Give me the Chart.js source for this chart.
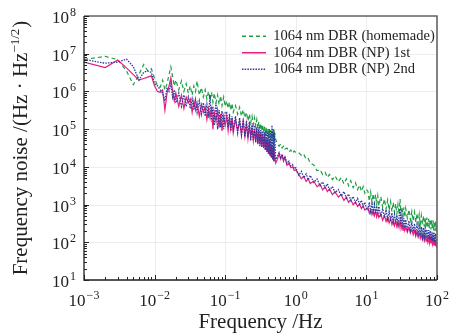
<!DOCTYPE html>
<html>
<head>
<meta charset="utf-8">
<title>Frequency noise</title>
<script src="https://cdn.jsdelivr.net/npm/chart.js@4.4.0/dist/chart.umd.min.js"></script>
<style>
  html, body { margin: 0; padding: 0; background: #fff; }
</style>
</head>
<body>
<canvas id="myChart" width="449" height="333"></canvas>
<script>
// frequency bins (Hz) shared by the three spectra
const freq = [
  0.001, 0.002, 0.003, 0.004, 0.005, 0.006, 0.007, 0.008, 0.009, 0.010,
  0.011, 0.012, 0.013, 0.014, 0.015, 0.016, 0.017, 0.018, 0.019, 0.020,
  0.022, 0.024, 0.026, 0.028, 0.030, 0.032, 0.034, 0.036, 0.038, 0.040,
  0.043, 0.046, 0.049, 0.052, 0.055, 0.058, 0.061, 0.064, 0.067, 0.070,
  0.074, 0.078, 0.082, 0.086, 0.090, 0.095, 0.100,
  0.105, 0.11, 0.115, 0.12, 0.125, 0.13, 0.14, 0.15, 0.16, 0.17,
  0.18, 0.19, 0.20, 0.21, 0.22, 0.23, 0.24, 0.25, 0.26, 0.27,
  0.28, 0.29, 0.30, 0.31, 0.32, 0.33, 0.34, 0.35, 0.36, 0.37,
  0.38, 0.39, 0.40, 0.41, 0.42, 0.43, 0.44, 0.45, 0.46, 0.47,
  0.48, 0.49, 0.50,
  0.52, 0.55, 0.58, 0.61, 0.64, 0.67, 0.70, 0.75, 0.80, 0.85, 0.90, 0.95, 1.0,
  1.1, 1.2, 1.3, 1.4, 1.5, 1.6, 1.8, 2.0, 2.2, 2.4,
  2.6, 2.8, 3.0, 3.3, 3.6, 4.0, 4.4, 4.8, 5.2, 5.6,
  6.0, 6.5, 7.0, 7.5, 8.0, 8.5, 9.0, 9.5, 10,
  10.5, 11, 11.5, 12, 12.5, 13, 13.5, 14, 14.5, 15,
  16, 17, 18, 19, 20, 21, 22, 23, 24, 25,
  26, 27, 28, 29, 30, 31, 32, 33, 34, 35,
  36, 38, 40, 42, 44, 46, 48, 50, 52, 54,
  56, 58, 60, 62, 64, 66, 68, 70, 72, 74,
  76, 78, 80, 82, 84, 86, 88, 90, 92, 94,
  96, 98, 100
];

// 1064 nm DBR (homemade), Hz/Hz^1/2
const homemade = [
  7.0e6, 8.5e6, 7.0e6, 3.5e6, 1.5e6, 2.8e6, 5.2e6, 3.5e6, 4.0e6, 2.2e6,
  1.4e6, 1.3e6, 2.0e6, 1.1e6, 1.6e6, 2.8e6, 4.5e6, 2.5e6, 1.4e6, 2.0e6,
  1.1e6, 1.9e6, 1.0e6, 1.6e6, 9.0e5, 1.4e6, 8.0e5, 1.4e6, 1.0e6, 1.9e6,
  8.0e5, 1.26e6, 7.1e5, 1.1e6, 6.3e5, 1.0e6, 6.0e5, 9.5e5, 5.2e5, 9.0e5,
  5.0e5, 8.0e5, 4.5e5, 7.6e5, 4.2e5, 7.1e5, 4.0e5,
  5.6e5, 3.55e5, 5.2e5, 3.15e5, 4.8e5, 2.8e5, 4.2e5, 2.5e5, 3.8e5, 2.2e5,
  3.3e5, 2.0e5, 2.8e5, 1.66e5, 2.5e5, 1.5e5, 2.2e5, 1.32e5, 2.0e5, 1.2e5,
  1.78e5, 1.05e5, 1.58e5, 9.5e4, 1.41e5, 8.9e4, 1.32e5, 7.9e4, 1.2e5, 7.6e4,
  1.12e5, 7.1e4, 1.05e5, 6.6e4, 1.0e5, 6.0e4, 9.5e4, 5.6e4, 8.9e4, 5.2e4,
  8.3e4, 5.0e4, 7.9e4,
  5.2e4, 4.2e4, 3.55e4, 4.0e4, 3.15e4, 3.55e4, 2.95e4, 3.15e4, 2.5e4, 2.8e4, 2.3e4, 2.65e4, 2.4e4,
  2.4e4, 2.0e4, 2.15e4, 1.58e4, 1.66e4, 1.26e4, 1.12e4, 7.9e3, 8.5e3, 6.3e3,
  7.2e3, 5.2e3, 6.3e3, 4.6e3, 5.8e3, 4.0e3, 5.2e3, 3.55e3, 4.8e3, 3.15e3,
  4.3e3, 2.8e3, 3.8e3, 2.5e3, 3.3e3, 2.25e3, 3.0e3, 2.0e3, 2.5e3,
  2.25e3, 1.23e3, 2.15e3, 1.15e3, 1.95e3, 1.05e3, 1.86e3, 1.02e3, 1.7e3, 9.3e2,
  1.62e3, 8.5e2, 1.41e3, 7.6e2, 1.32e3, 7.2e2, 1.2e3, 6.5e2, 1.15e3, 6.2e2,
  1.05e3, 5.6e2, 1.0e3, 5.5e2, 1.4e3, 5.0e2, 8.7e2, 4.9e2, 8.5e2, 4.6e2,
  7.9e2, 4.4e2, 7.4e2, 3.9e2, 6.6e2, 3.7e2, 6.3e2, 3.4e2, 5.8e2, 3.2e2,
  5.5e2, 2.95e2, 5.1e2, 2.9e2, 5.0e2, 2.65e2, 4.6e2, 2.6e2, 4.5e2, 2.4e2,
  4.2e2, 2.35e2, 4.1e2, 2.2e2, 3.8e2, 2.2e2, 3.8e2, 2.05e2, 3.55e2, 2.0e2,
  3.55e2, 1.9e2, 2.5e2
];

// 1064 nm DBR (NP) 1st
const npFirst = [
  6.0e6, 4.3e6, 6.8e6, 4.2e6, 2.8e6, 2.0e6, 2.2e6, 2.4e6, 2.6e6, 1.4e6,
  1.0e6, 9.5e5, 1.1e6, 3.2e5, 9.0e5, 1.4e6, 2.3e6, 1.0e6, 5.6e5, 9.0e5,
  4.0e5, 8.0e5, 3.5e5, 7.0e5, 5.0e5, 6.3e5, 2.8e5, 5.6e5, 3.2e5, 5.0e5,
  2.2e5, 4.5e5, 2.8e5, 4.0e5, 1.8e5, 3.5e5, 2.0e5, 4.0e5, 1.0e5, 2.8e5,
  1.6e5, 3.2e5, 1.1e5, 2.5e5, 9.0e4, 2.2e5, 1.26e5,
  2.2e5, 9.0e4, 2.0e5, 1.0e5, 2.0e5, 8.0e4, 1.8e5, 9.0e4, 1.6e5, 7.0e4,
  1.6e5, 6.3e4, 1.4e5, 5.6e4, 1.26e5, 6.3e4, 1.1e5, 5.0e4, 1.0e5, 4.5e4,
  1.0e5, 4.0e4, 9.0e4, 4.0e4, 8.0e4, 3.5e4, 7.0e4, 3.2e4, 6.3e4, 2.8e4,
  5.6e4, 2.5e4, 5.0e4, 2.2e4, 5.0e4, 2.0e4, 4.0e4, 1.8e4, 3.5e4, 1.6e4,
  3.2e4, 1.4e4, 2.0e4,
  1.26e4, 1.6e4, 2.2e4, 1.6e4, 2.0e4, 1.4e4, 1.8e4, 1.1e4, 1.26e4, 9.5e3, 1.0e4, 8.0e3, 8.3e3,
  6.3e3, 4.8e3, 5.6e3, 4.1e3, 4.8e3, 3.6e3, 4.2e3, 2.95e3, 3.5e3, 2.45e3,
  2.95e3, 2.2e3, 2.6e3, 1.82e3, 2.2e3, 1.58e3, 1.82e3, 1.29e3, 1.55e3, 1.15e3,
  1.35e3, 9.8e2, 1.17e3, 8.9e2, 1.05e3, 7.8e2, 9.3e2, 7.1e2, 7.6e2,
  8.3e2, 5.9e2, 7.4e2, 5.4e2, 7.1e2, 5.1e2, 6.8e2, 4.7e2, 6.0e2, 4.5e2,
  5.6e2, 3.8e2, 5.1e2, 3.55e2, 4.7e2, 3.25e2, 4.2e2, 2.95e2, 3.9e2, 2.75e2,
  3.6e2, 2.6e2, 3.4e2, 2.5e2, 3.9e2, 2.3e2, 3.0e2, 2.1e2, 2.8e2, 2.05e2,
  2.6e2, 1.85e2, 2.45e2, 1.74e2, 2.2e2, 1.58e2, 2.05e2, 1.45e2, 1.9e2, 1.38e2,
  1.78e2, 1.29e2, 1.62e2, 1.2e2, 1.58e2, 1.12e2, 1.48e2, 1.07e2, 1.41e2, 1.02e2,
  1.32e2, 9.5e1, 1.29e2, 9.3e1, 1.23e2, 8.9e1, 1.17e2, 8.3e1, 1.12e2, 8.3e1,
  1.07e2, 7.8e1, 8.5e1
];

// 1064 nm DBR (NP) 2nd
const npSecond = [
  7.0e6, 5.6e6, 6.0e6, 7.2e6, 4.5e6, 2.0e6, 3.2e6, 3.5e6, 3.2e6, 1.6e6,
  1.4e6, 1.1e6, 9.0e5, 5.6e5, 1.26e6, 1.0e6, 1.6e6, 7.1e5, 1.1e6, 5.0e5,
  9.0e5, 4.0e5, 8.0e5, 4.0e5, 7.1e5, 3.5e5, 6.3e5, 3.2e5, 6.0e5, 2.8e5,
  5.6e5, 2.5e5, 5.0e5, 2.2e5, 4.5e5, 2.0e5, 8.0e5, 1.6e5, 4.0e5, 1.26e5,
  5.0e5, 1.0e5, 3.2e5, 1.12e5, 3.0e5, 1.0e5, 2.8e5,
  2.8e5, 1.12e5, 2.5e5, 8.9e4, 2.2e5, 1.0e5, 2.2e5, 7.9e4, 2.0e5, 7.1e4,
  1.9e5, 6.3e4, 1.66e5, 6.0e4, 1.58e5, 5.0e4, 1.41e5, 5.2e4, 1.26e5, 4.5e4,
  1.12e5, 4.2e4, 1.12e5, 3.55e4, 9.5e4, 3.3e4, 8.9e4, 3.15e4, 8.3e4, 2.8e4,
  8.9e4, 2.5e4, 7.9e4, 2.2e4, 1.0e5, 2.0e4, 8.9e4, 1.78e4, 1.26e5, 1.58e4,
  1.0e5, 1.41e4, 7.9e4,
  1.58e4, 1.9e4, 2.4e4, 1.78e4, 2.15e4, 1.58e4, 1.9e4, 1.26e4, 1.41e4, 1.07e4, 1.15e4, 8.9e3, 9.5e3,
  6.0e3, 7.6e3, 5.1e3, 6.5e3, 4.5e3, 5.9e3, 3.9e3, 4.8e3, 3.15e3, 4.0e3,
  2.75e3, 3.55e3, 2.45e3, 3.0e3, 2.05e3, 2.5e3, 1.7e3, 2.2e3, 1.5e3, 1.9e3,
  1.29e3, 1.62e3, 1.12e3, 1.45e3, 1.02e3, 1.29e3, 8.9e2, 1.15e3, 7.9e2,
  7.2e2, 1.15e3, 6.5e2, 1.02e3, 6.2e2, 1.0e3, 5.6e2, 9.1e2, 5.5e2, 8.9e2,
  4.8e2, 7.8e2, 4.5e2, 7.2e2, 4.0e2, 6.5e2, 3.7e2, 6.0e2, 3.4e2, 5.4e2,
  3.15e2, 5.2e2, 3.0e2, 4.7e2, 7.8e2, 2.7e2, 4.5e2, 2.5e2, 4.3e2, 2.45e2,
  4.0e2, 2.2e2, 3.7e2, 2.1e2, 3.4e2, 1.9e2, 3.1e2, 1.78e2, 2.95e2, 1.7e2,
  2.75e2, 1.55e2, 2.55e2, 1.45e2, 2.45e2, 1.41e2, 2.35e2, 1.32e2, 2.2e2, 1.26e2,
  2.1e2, 1.23e2, 2.05e2, 1.15e2, 1.9e2, 1.1e2, 1.86e2, 1.07e2, 1.78e2, 1.0e2,
  1.7e2, 9.8e1, 1.26e2
];

const seriesNames = ['1064 nm DBR (homemade)', '1064 nm DBR (NP) 1st', '1064 nm DBR (NP) 2nd'];
const xDecades = [-3, -2, -1, 0, 1, 2];
const yDecades = [1, 2, 3, 4, 5, 6, 7, 8];

const SERIF = '"Liberation Serif", "Times New Roman", serif';

function toPoints(values) {
  return freq.map((f, i) => ({ x: f, y: values[i] }));
}

// "10" with a raised exponent
function drawPower(ctx, x, y, exp, align) {
  const expText = exp < 0 ? '\u2212' + (-exp) : String(exp);
  ctx.font = '17px ' + SERIF;
  const w1 = ctx.measureText('10').width;
  ctx.font = '12px ' + SERIF;
  const w2 = ctx.measureText(expText).width;
  const total = w1 + 1 + w2;
  const x0 = align === 'right' ? x - total : x - total / 2;
  ctx.textAlign = 'left';
  ctx.textBaseline = 'alphabetic';
  ctx.font = '17px ' + SERIF;
  ctx.fillText('10', x0, y);
  ctx.font = '12px ' + SERIF;
  ctx.fillText(expText, x0 + w1 + 1, y - 7);
}

const axisDecor = {
  id: 'axisDecor',
  afterLayout(chart) {
    // put the legend in the upper right corner of the plot
    const lg = chart.legend;
    const w = lg.width;
    lg.left = chart.chartArea.right - 197;
    lg.right = lg.left + w;
    lg.top = chart.chartArea.top + 11;
  },
  beforeDatasetsDraw(chart) {
    const { ctx, chartArea: a, scales: { x, y } } = chart;
    ctx.save();
    ctx.strokeStyle = 'rgba(0,0,0,0.07)';
    ctx.lineWidth = 1;
    xDecades.forEach(e => {
      const px = Math.round(x.getPixelForValue(Math.pow(10, e))) + 0.5;
      ctx.beginPath(); ctx.moveTo(px, a.top); ctx.lineTo(px, a.bottom); ctx.stroke();
    });
    yDecades.forEach(e => {
      const py = Math.round(y.getPixelForValue(Math.pow(10, e))) + 0.5;
      ctx.beginPath(); ctx.moveTo(a.left, py); ctx.lineTo(a.right, py); ctx.stroke();
    });
    ctx.restore();
  },
  afterDraw(chart) {
    const { ctx, chartArea: a, scales: { x, y } } = chart;
    ctx.save();

    // frame
    ctx.strokeStyle = '#666';
    ctx.lineWidth = 1.6;
    ctx.beginPath();
    ctx.moveTo(a.left, a.top); ctx.lineTo(a.right, a.top); ctx.lineTo(a.right, a.bottom);
    ctx.stroke();
    ctx.strokeStyle = '#222';
    ctx.lineWidth = 1.3;
    ctx.beginPath();
    ctx.moveTo(a.left, a.top); ctx.lineTo(a.left, a.bottom); ctx.lineTo(a.right, a.bottom);
    ctx.stroke();

    // inward ticks
    ctx.lineWidth = 1;
    ctx.strokeStyle = '#222';
    xDecades.forEach((e, i) => {
      for (let m = 1; m <= 9; m++) {
        if (i === xDecades.length - 1 && m > 1) break;
        const px = Math.round(x.getPixelForValue(m * Math.pow(10, e))) + 0.5;
        const len = m === 1 ? 5 : 3;
        ctx.beginPath(); ctx.moveTo(px, a.bottom); ctx.lineTo(px, a.bottom - len); ctx.stroke();
      }
    });
    yDecades.forEach((e, i) => {
      for (let m = 1; m <= 9; m++) {
        if (i === yDecades.length - 1 && m > 1) break;
        const py = Math.round(y.getPixelForValue(m * Math.pow(10, e))) + 0.5;
        const len = m === 1 ? 5 : 3;
        ctx.beginPath(); ctx.moveTo(a.left, py); ctx.lineTo(a.left + len, py); ctx.stroke();
      }
    });

    // tick labels
    ctx.fillStyle = '#222';
    xDecades.forEach(e => {
      drawPower(ctx, x.getPixelForValue(Math.pow(10, e)), a.bottom + 26, e, 'center');
    });
    yDecades.forEach(e => {
      drawPower(ctx, a.left - 8, y.getPixelForValue(Math.pow(10, e)) + 7, e, 'right');
    });

    // y axis title with superscript
    const main = 'Frequency noise /(Hz \u00B7 Hz';
    const sup = '\u22121/2';
    const tail = ')';
    ctx.font = '21px ' + SERIF;
    const wMain = ctx.measureText(main).width;
    const wTail = ctx.measureText(tail).width;
    ctx.font = '13px ' + SERIF;
    const wSup = ctx.measureText(sup).width;
    const total = wMain + wSup + 1 + wTail;
    ctx.translate(20, (a.top + a.bottom) / 2);
    ctx.rotate(-Math.PI / 2);
    ctx.textAlign = 'left';
    ctx.textBaseline = 'alphabetic';
    let cx = -total / 2;
    ctx.font = '21px ' + SERIF;
    ctx.fillText(main, cx, 7);
    cx += wMain;
    ctx.font = '13px ' + SERIF;
    ctx.fillText(sup, cx, -1);
    cx += wSup + 1;
    ctx.font = '21px ' + SERIF;
    ctx.fillText(tail, cx, 7);

    ctx.restore();
  }
};

let myChart;

document.addEventListener('DOMContentLoaded', function() {
  myChart = new Chart(document.getElementById('myChart').getContext('2d'), {
    type: 'line',
    data: {
      datasets: [
        {
          label: seriesNames[0],
          data: toPoints(homemade),
          borderColor: '#1f9e45',
          borderWidth: 1.2,
          borderDash: [4, 3],
          pointRadius: 0,
          order: 2
        },
        {
          label: seriesNames[1],
          data: toPoints(npFirst),
          borderColor: '#e61e7d',
          borderWidth: 1.2,
          pointRadius: 0,
          order: 1
        },
        {
          label: seriesNames[2],
          data: toPoints(npSecond),
          borderColor: '#2e3b9e',
          borderWidth: 1.3,
          borderDash: [1.5, 1.2],
          pointRadius: 0,
          order: 0
        }
      ]
    },
    options: {
      responsive: false,
      animation: false,
      devicePixelRatio: 1,
      layout: { padding: { left: 0, right: 12, top: 16, bottom: 0 } },
      plugins: {
        tooltip: { enabled: false },
        legend: {
          position: 'chartArea',
          align: 'start',
          labels: {
            usePointStyle: true,
            pointStyle: 'line',
            pointStyleWidth: 24,
            padding: 2,
            color: '#222',
            font: { family: SERIF, size: 14.5 },
            sort: (a, b) => a.datasetIndex - b.datasetIndex,
            // legend samples take the dash pattern of the line, not of the points
            generateLabels: (chart) => {
              const items = Chart.defaults.plugins.legend.labels.generateLabels(chart);
              items.forEach(item => {
                const ds = chart.data.datasets[item.datasetIndex];
                item.strokeStyle = ds.borderColor;
                item.lineDash = ds.borderDash || [];
                item.lineWidth = item.datasetIndex === 1 ? 1.6 : 1.3;
              });
              return items;
            }
          }
        }
      },
      scales: {
        x: {
          type: 'logarithmic',
          min: 0.001,
          max: 100,
          grid: { display: false },
          border: { display: false },
          ticks: { display: false },
          title: {
            display: true,
            text: 'Frequency /Hz',
            color: '#222',
            font: { family: SERIF, size: 21, lineHeight: 1 },
            padding: { top: 0, bottom: 0 }
          },
          afterFit: (scale) => { scale.height = 53; }
        },
        y: {
          type: 'logarithmic',
          min: 10,
          max: 1e8,
          grid: { display: false },
          border: { display: false },
          ticks: { display: false },
          afterFit: (scale) => { scale.width = 84; }
        }
      }
    },
    plugins: [axisDecor]
  });
});
</script>
</body>
</html>
